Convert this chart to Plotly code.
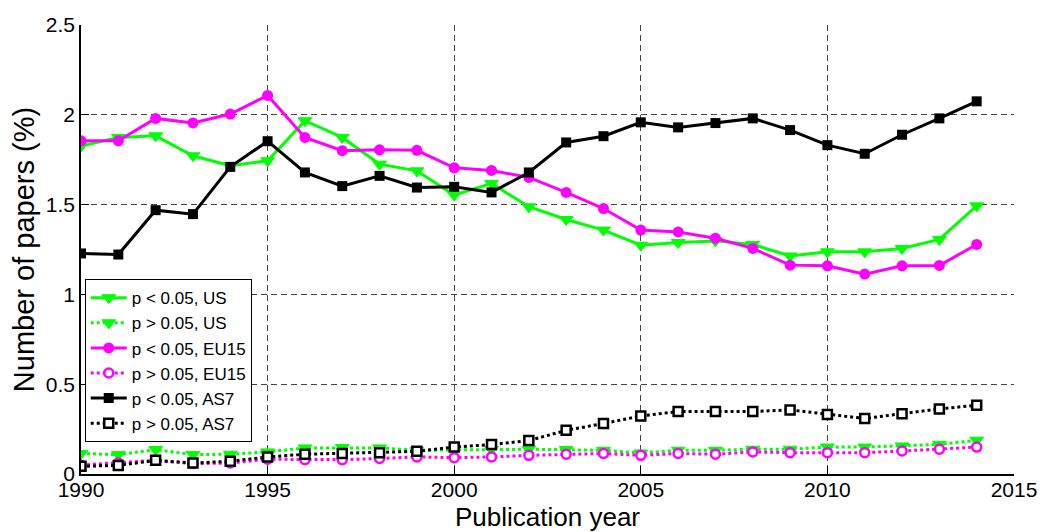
import plotly.graph_objects as go

years = list(range(1990, 2015))

us_sig = [1.826, 1.874, 1.883, 1.772, 1.716, 1.744, 1.967, 1.874, 1.725, 1.688,
          1.553, 1.618, 1.488, 1.417, 1.358, 1.274, 1.289, 1.298, 1.278, 1.214,
          1.237, 1.237, 1.256, 1.306, 1.493]
us_ns = [0.114, 0.108, 0.136, 0.108, 0.110, 0.123, 0.145, 0.147, 0.145, 0.132,
         0.132, 0.136, 0.138, 0.136, 0.132, 0.117, 0.132, 0.132, 0.138, 0.138,
         0.150, 0.150, 0.156, 0.165, 0.188]
eu_sig = [1.855, 1.855, 1.980, 1.955, 2.004, 2.108, 1.874, 1.800, 1.805, 1.802,
          1.705, 1.690, 1.651, 1.568, 1.478, 1.358, 1.348, 1.313, 1.256, 1.163,
          1.159, 1.113, 1.159, 1.161, 1.278]
eu_ns = [0.050, 0.061, 0.076, 0.058, 0.061, 0.082, 0.080, 0.080, 0.086, 0.095,
         0.091, 0.095, 0.104, 0.110, 0.114, 0.104, 0.114, 0.110, 0.123, 0.119,
         0.119, 0.119, 0.128, 0.138, 0.150]
as_sig = [1.228, 1.222, 1.469, 1.447, 1.710, 1.853, 1.679, 1.603, 1.660, 1.595,
          1.599, 1.568, 1.679, 1.846, 1.881, 1.958, 1.930, 1.954, 1.980, 1.915,
          1.831, 1.783, 1.889, 1.980, 2.075]
as_ns = [0.043, 0.048, 0.076, 0.061, 0.071, 0.095, 0.110, 0.114, 0.119, 0.126,
         0.150, 0.164, 0.186, 0.243, 0.281, 0.323, 0.348, 0.348, 0.348, 0.357,
         0.331, 0.309, 0.336, 0.362, 0.383]

GREEN = "#00ff00"
MAGENTA = "#ff00ff"
BLACK = "#000000"
FONT = "Liberation Sans, Arial, sans-serif"

fig = go.Figure()

fig.add_trace(go.Scatter(
    x=years, y=us_sig, name="p < 0.05, US", mode="lines+markers",
    line=dict(color=GREEN, width=3),
    marker=dict(symbol="triangle-down", size=12, color=GREEN, line=dict(color=GREEN, width=1))))
fig.add_trace(go.Scatter(
    x=years, y=us_ns, name="p > 0.05, US", mode="lines+markers",
    line=dict(color=GREEN, width=3, dash="dot"),
    marker=dict(symbol="triangle-down", size=12, color=GREEN, line=dict(color=GREEN, width=1))))
fig.add_trace(go.Scatter(
    x=years, y=eu_sig, name="p < 0.05, EU15", mode="lines+markers",
    line=dict(color=MAGENTA, width=3),
    marker=dict(symbol="circle", size=11, color=MAGENTA)))
fig.add_trace(go.Scatter(
    x=years, y=eu_ns, name="p > 0.05, EU15", mode="lines+markers",
    line=dict(color=MAGENTA, width=3, dash="dot"),
    marker=dict(symbol="circle", size=9, color="white", line=dict(color=MAGENTA, width=2.5))))
fig.add_trace(go.Scatter(
    x=years, y=as_sig, name="p < 0.05, AS7", mode="lines+markers",
    line=dict(color=BLACK, width=3),
    marker=dict(symbol="square", size=10, color=BLACK)))
fig.add_trace(go.Scatter(
    x=years, y=as_ns, name="p > 0.05, AS7", mode="lines+markers",
    line=dict(color=BLACK, width=3, dash="dot"),
    marker=dict(symbol="square", size=9, color="white", line=dict(color=BLACK, width=2.5))))

axis_common = dict(
    showgrid=True, gridcolor="#444444", gridwidth=1, griddash="6px,4px",
    showline=True, linecolor="black", linewidth=1.5,
    ticks="inside", ticklen=8, tickcolor="black", tickwidth=1,
    zeroline=False, mirror=False, automargin=False,
    tickfont=dict(family=FONT, size=21, color="black"),
)

fig.update_xaxes(range=[1990, 2015], dtick=5, tick0=1990, ticklabelstandoff=-4,
                 title=dict(text="Publication year", standoff=8,
                            font=dict(family=FONT, size=26, color="black")),
                 **axis_common)
fig.update_yaxes(range=[0, 2.5], dtick=0.5, tick0=0,
                 title=dict(text="Number of papers (%)", standoff=6,
                            font=dict(family=FONT, size=29, color="black")),
                 **axis_common)

# The page body adds an 8px offset; size the figure so it fills the window.
fig.update_layout(
    width=1048, height=524,
    margin=dict(l=73, r=42, t=17, b=58),
    paper_bgcolor="white", plot_bgcolor="white",
    showlegend=True,
    legend=dict(x=0.004, y=0.434, xanchor="left", yanchor="top",
                bgcolor="white", bordercolor="black", borderwidth=1,
                font=dict(family=FONT, size=17, color="black"),
                tracegroupgap=0, itemwidth=36),
)

fig.write_html("out.html")
